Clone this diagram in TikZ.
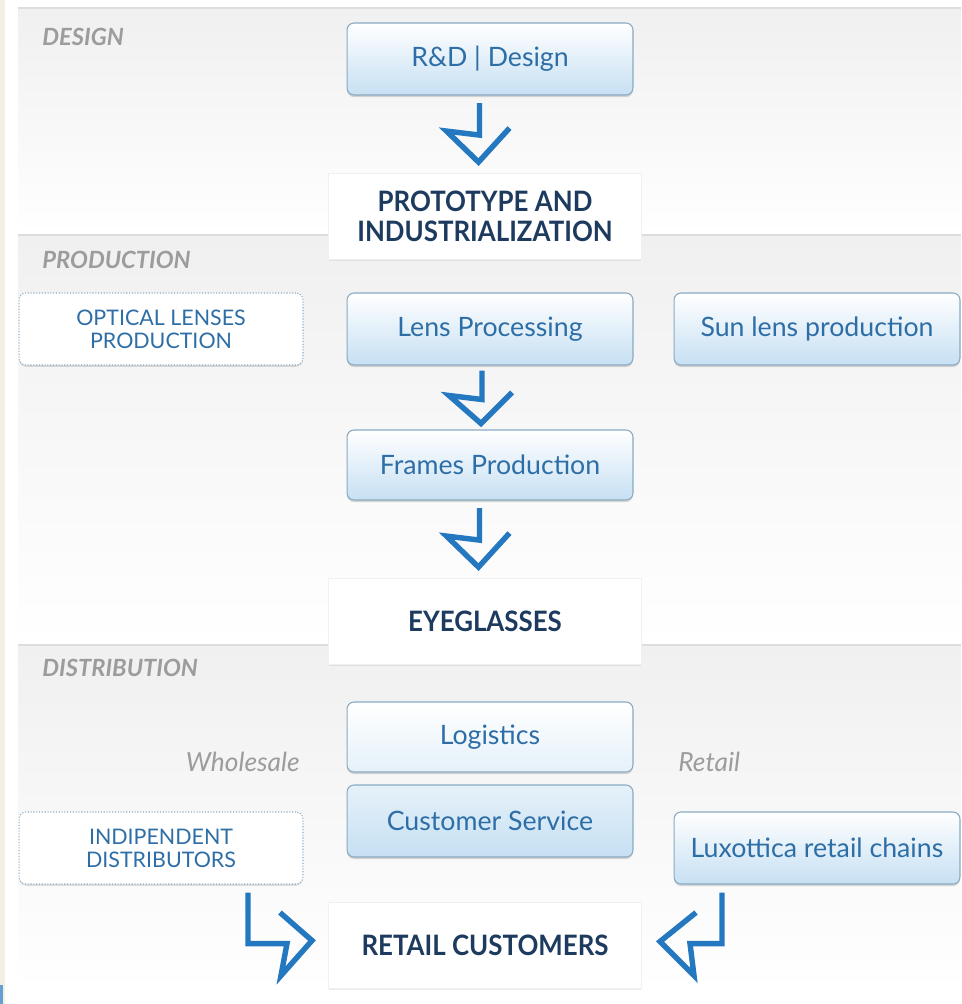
\documentclass[tikz,border=0pt]{standalone}
\usepackage{fontspec}
\setmainfont{Lato}
\newfontfamily\headfont[FakeStretch=0.92]{Lato}
\usetikzlibrary{calc,shadows}

\definecolor{boxblue}{HTML}{C6E0F3}
\definecolor{boxline}{HTML}{8AAAC2}
\definecolor{textblue}{HTML}{2E6EA6}
\definecolor{navy}{HTML}{1D3B5E}
\definecolor{arrowblue}{HTML}{2478C0}
\definecolor{labelgrey}{HTML}{9C9C9C}
\definecolor{bandgrey}{HTML}{F0F0F0}
\definecolor{bandline}{HTML}{DDDDDD}
\definecolor{cream}{HTML}{F2F0E2}

\begin{document}
\begin{tikzpicture}[x=0.02cm,y=-0.02cm,
    bluebox/.style={rounded corners=4pt, draw=boxline, line width=0.6pt,
      top color=white, bottom color=boxblue, text=textblue,
      minimum width=5.72cm, minimum height=1.44cm,
      font=\fontsize{15.2}{17}\selectfont,
      drop shadow={opacity=0.3, shadow xshift=0pt, shadow yshift=-1.2pt}},
    dotbox/.style={rounded corners=4pt, draw=boxline, densely dotted, line width=0.6pt,
      fill=white, text=textblue, align=center,
      minimum width=5.68cm, minimum height=1.44cm,
      font=\fontsize{12.2}{13}\selectfont,
      drop shadow={opacity=0.25, shadow xshift=0pt, shadow yshift=-1pt}},
    headbox/.style={fill=white, draw=black!6, text=navy, align=center,
      minimum width=6.25cm, minimum height=1.72cm,
      font=\headfont\bfseries\fontsize{16}{17}\selectfont,
      drop shadow={opacity=0.15, shadow xshift=0pt, shadow yshift=-1pt}},
    section/.style={anchor=west, inner sep=0pt, text=labelgrey,
      font=\bfseries\itshape\fontsize{13.5}{15}\selectfont},
    channel/.style={text=labelgrey, inner sep=0pt, font=\itshape\fontsize{15}{17}\selectfont},
    flowarrow/.style={draw=arrowblue, line width=3.1pt, line join=miter}]

\useasboundingbox (0,0) rectangle (961,1004);
\fill[white] (0,0) rectangle (961,1004);
\fill[cream] (0,0) rectangle (5,1004);
\fill[arrowblue!70] (0,985) rectangle (3,1004);

% bands
\shade[top color=bandgrey, bottom color=white] (18,8) rectangle (961,235);
\shade[top color=bandgrey, bottom color=white] (18,235) rectangle (961,645);
\shade[top color=bandgrey, bottom color=white] (18,645) rectangle (961,992);
\draw[bandline, line width=1.2pt] (18,8) -- (961,8);
\draw[bandline, line width=1.2pt] (18,235) -- (961,235);
\draw[bandline, line width=1.2pt] (18,645) -- (961,645);

\node[section] (design) at (42,37) {DESIGN};
\node[section] (production) at (42,260) {PRODUCTION};
\node[section] (distribution) at (42,668) {DISTRIBUTION};

\node[bluebox] (rd) at (490,59) {R\&D | Design};
\node[headbox] (proto) at (485,216) {PROTOTYPE AND\\INDUSTRIALIZATION};

\node[dotbox] (optical) at (161,329) {OPTICAL LENSES\\PRODUCTION};
\node[bluebox] (lensproc) at (490,329) {Lens Processing};
\node[bluebox] (sunlens) at (817,329) {Sun lens production};
\node[bluebox, minimum height=1.4cm] (frames) at (490,465) {Frames Production};
\node[headbox] (eyeglasses) at (485,621) {EYEGLASSES};

\node[bluebox, minimum height=1.4cm, bottom color=boxblue!45] (logistics) at (490,737) {Logistics};
\node[bluebox, top color=boxblue!45] (custserv) at (490,821) {Customer Service};
\node[channel, anchor=east] (wholesale) at (300,762) {Wholesale};
\node[channel, anchor=west] (retail) at (678,762) {Retail};
\node[dotbox] (indip) at (161,848) {INDIPENDENT\\DISTRIBUTORS};
\node[bluebox] (luxretail) at (817,848) {Luxottica retail chains};
\node[headbox] (retailcust) at (485,945) {RETAIL CUSTOMERS};

% down arrows
\draw[flowarrow] ($(rd.south)!0.5!(proto.north)$) ++(-8,-31) -- ++(0,32) -- ++(-33,-4) -- ++(32,31) -- ++(31,-34);
\draw[flowarrow] ($(lensproc.south)!0.5!(frames.north)$) ++(-8,-27) -- ++(0,29) -- ++(-33,-4) -- ++(32,28) -- ++(31,-31);
\draw[flowarrow] ($(frames.south)!0.5!(eyeglasses.north)$) ++(-8,-31) -- ++(0,32) -- ++(-33,-4) -- ++(32,31) -- ++(31,-34);

% side arrows
\draw[flowarrow] (indip.south) ++(87,8) -- ++(0,51) -- ++(39,0) -- ++(-6,32) -- ++(31,-35) -- ++(-32,-28);
\draw[flowarrow] (luxretail.south) ++(-95,8) -- ++(0,51) -- ++(-32,0) -- ++(4,32) -- ++(-34,-34) -- ++(36,-29);
\end{tikzpicture}
\end{document}
